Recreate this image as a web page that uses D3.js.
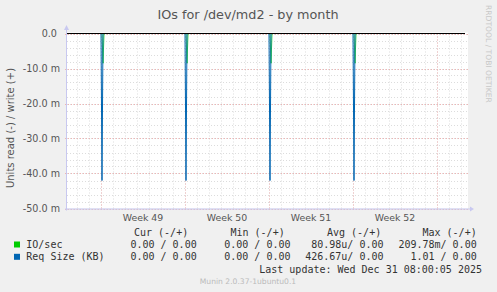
<!DOCTYPE html>
<html><head><meta charset="utf-8">
<script src="https://cdn.jsdelivr.net/npm/d3@7"></script>
<style>
html,body{margin:0;padding:0;background:#f0f0f0;}
svg{display:block;}
text{font-family:"DejaVu Sans",sans-serif;}
text.mono{font-family:"DejaVu Sans Mono",monospace;white-space:pre;}
</style></head><body>
<svg id="c" width="497" height="292"></svg>
<script>
// ---- data ----
const timeStart = Date.UTC(2025, 10, 28, 4, 0);   // Nov 28 04:00
const timeEnd   = Date.UTC(2025, 11, 31, 8, 0);   // Dec 31 08:00
const weekStarts = [Date.UTC(2025,11,1), Date.UTC(2025,11,8), Date.UTC(2025,11,15), Date.UTC(2025,11,22), Date.UTC(2025,11,29)];
const weekLabels = ["Week 49", "Week 50", "Week 51", "Week 52"];
const spikeTimes = [Date.UTC(2025,11,1,2), Date.UTC(2025,11,8,2), Date.UTC(2025,11,15,2), Date.UTC(2025,11,22,2)];
const reqSizeRead = [-0.042, -0.042, -0.042, -0.042];
const ioSecRead   = [-0.0085, -0.0085, -0.0085, -0.0085];
const yTicks = [0, -0.01, -0.02, -0.03, -0.04, -0.05];
const yTickLabels = ["0.0 ", "-10.0 m", "-20.0 m", "-30.0 m", "-40.0 m", "-50.0 m"];
const seriesNames = ["IO/sec", "Req Size (KB)"];
const seriesColors = ["#00cc00", "#0066b3"];
const curVals = ["0.00 / 0.00", "0.00 / 0.00"];
const minVals = ["0.00 / 0.00", "0.00 / 0.00"];
const avgVals = ["80.98u/ 0.00", "426.67u/ 0.00"];
const maxVals = ["209.78m/ 0.00", "1.01 / 0.00"];

const svg = d3.select("#c");
const L = 67, R = 465, T = 33.5, B = 208.5;
const x = d3.scaleUtc().domain([timeStart, timeEnd]).range([L, R]);
const y = d3.scaleLinear().domain([-0.05, 0]).range([B, T]);

// plot bg
svg.append("rect").attr("x", L).attr("y", T-1).attr("width", 401).attr("height", B-T+1).attr("fill", "#fff");

// minor grid
const dayTicks = d3.utcDay.range(d3.utcDay.ceil(timeStart), timeEnd + 3600e3*3);
const g = svg.append("g");
dayTicks.forEach(d => {
  const xx = Math.round(x(d)) + 0.5;
  if (xx > R + 3) return;
  g.append("line").attr("x1", xx).attr("x2", xx).attr("y1", T).attr("y2", B)
    .attr("stroke", "#dcdcdc").attr("stroke-dasharray", "1,2");
});
const minorY = d3.range(0, 26).map(i => -0.002 * i);
minorY.forEach(v => {
  const yy = Math.round(y(v)) + 0.5;
  g.append("line").attr("x1", L).attr("x2", 468).attr("y1", yy).attr("y2", yy)
    .attr("stroke", "#dcdcdc").attr("stroke-dasharray", "1,2");
});
// major grid
yTicks.forEach(v => {
  const yy = Math.round(y(v)) + 0.5;
  g.append("line").attr("x1", L - 2).attr("x2", 468).attr("y1", yy).attr("y2", yy)
    .attr("stroke", "#f0b4b4").attr("stroke-dasharray", "1,2");
});
weekStarts.forEach(d => {
  const xx = Math.round(x(d)) + 0.5;
  g.append("line").attr("x1", xx).attr("x2", xx).attr("y1", T).attr("y2", B + 2)
    .attr("stroke", "#f0b4b4").attr("stroke-dasharray", "1,2");
});

// axes
svg.append("line").attr("x1", L - 0.5).attr("x2", L - 0.5).attr("y1", 28).attr("y2", B + 2).attr("stroke", "#c8c8f0");
svg.append("line").attr("x1", L - 2).attr("x2", 470).attr("y1", B + 0.5).attr("y2", B + 0.5).attr("stroke", "#c8c8f0");
svg.append("path").attr("d", `M${L-3},${30} L${L+2},${30} L${L-0.5},${25} Z`).attr("fill", "#c8c8f0");
svg.append("path").attr("d", `M470,${B-2} L470,${B+3} L474,${B+0.5} Z`).attr("fill", "#c8c8f0");

// series lines
function spikeLine(vals, off) {
  const pts = [[timeStart, 0]];
  spikeTimes.forEach((t, i) => {
    pts.push([t - 2*3600e3 + off, 0]);
    pts.push([t + off, vals[i]]);
    pts.push([t + 2*3600e3 + off, 0]);
  });
  pts.push([timeEnd, 0]);
  return d3.line().x(d => x(d[0])).y(d => y(d[1]))(pts);
}
svg.append("path").attr("d", spikeLine(ioSecRead, 2*3600e3)).attr("fill", "none").attr("stroke", seriesColors[0]).attr("stroke-width", 1).attr("opacity", 0.8);
svg.append("path").attr("d", spikeLine(reqSizeRead, 0)).attr("fill", "none").attr("stroke", seriesColors[1]).attr("stroke-width", 1);
// zero line
svg.append("line").attr("x1", L).attr("x2", R).attr("y1", y(0)).attr("y2", y(0)).attr("stroke", "#000").attr("stroke-width", 1);

// y tick labels
yTicks.forEach((v, i) => {
  svg.append("text").attr("x", 60).attr("y", y(v) + 3.5)
    .attr("text-anchor", "end").attr("font-size", 9.6).attr("fill", "#555")
    .style("white-space", "pre").text(yTickLabels[i]);
});
// x labels
weekLabels.forEach((lab, i) => {
  const cx = (x(weekStarts[i]) + x(weekStarts[i+1])) / 2;
  svg.append("text").attr("x", cx).attr("y", 220.5).attr("text-anchor", "middle")
    .attr("font-size", 9.4).attr("fill", "#555").text(lab);
});

// title
svg.append("text").attr("x", 248).attr("y", 18.5).attr("text-anchor", "middle")
  .attr("font-size", 12.8).attr("fill", "#555").text("IOs for /dev/md2 - by month");
// y label
svg.append("text").attr("transform", "translate(13.5,128) rotate(-90)").attr("text-anchor", "middle")
  .attr("font-size", 10).attr("fill", "#555").text("Units read (-) / write (+)");
// rrdtool
svg.append("text").attr("transform", "translate(486,5) rotate(90)").attr("text-anchor", "start")
  .attr("font-size", 7.6).attr("fill", "#c8c8c8").text("RRDTOOL / TOBI OETIKER");

// legend
const lg = svg.append("g").attr("font-size", 10).attr("fill", "#333");
function mt(xx, yy, s, anchor) {
  return lg.append("text").attr("class", "mono").attr("x", xx).attr("y", yy)
    .attr("text-anchor", anchor || "start").text(s);
}
mt(134, 236, "Cur (-/+)");
mt(230.5, 236, "Min (-/+)");
mt(327, 236, "Avg (-/+)");
mt(422.5, 236, "Max (-/+)");
seriesNames.forEach((n, i) => {
  const yy = 248 + i * 12.3;
  svg.append("rect").attr("x", 14).attr("y", yy - 6.5).attr("width", 6).attr("height", 6).attr("fill", seriesColors[i]);
  mt(26.3, yy, n);
  mt(196.7, yy, curVals[i], "end");
  mt(290.5, yy, minVals[i], "end");
  mt(383.5, yy, avgVals[i], "end");
  mt(476.7, yy, maxVals[i], "end");
});
mt(482, 272.5, "Last update: Wed Dec 31 08:00:05 2025", "end");
svg.append("text").attr("x", 248).attr("y", 284).attr("text-anchor", "middle")
  .attr("font-size", 7.6).attr("fill", "#bbb").text("Munin 2.0.37-1ubuntu0.1");
</script>
</body></html>
